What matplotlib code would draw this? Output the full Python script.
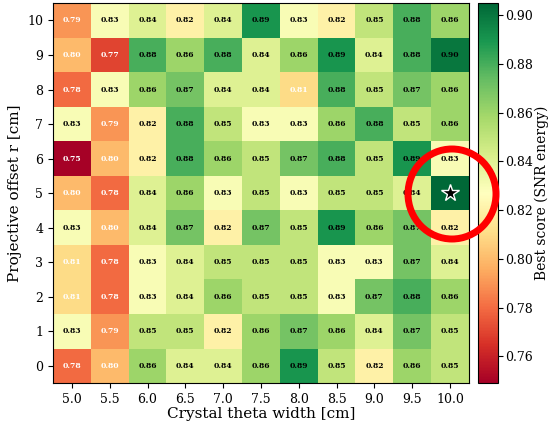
import numpy as np
import matplotlib
matplotlib.use("Agg")
import matplotlib.pyplot as plt
from matplotlib.patches import Ellipse

plt.rcParams['font.family'] = ['DejaVu Serif']

# Crystal theta width [cm] (columns) and projective offset r [cm] (rows)
widths = [5.0, 5.5, 6.0, 6.5, 7.0, 7.5, 8.0, 8.5, 9.0, 9.5, 10.0]
offsets = [0, 1, 2, 3, 4, 5, 6, 7, 8, 9, 10]

# best score per cell, rows from r=0 up to r=10
scores = [
    [0.78, 0.80, 0.86, 0.84, 0.84, 0.86, 0.89, 0.85, 0.82, 0.86, 0.85],
    [0.83, 0.79, 0.85, 0.85, 0.82, 0.86, 0.87, 0.86, 0.84, 0.87, 0.85],
    [0.81, 0.78, 0.83, 0.84, 0.86, 0.85, 0.85, 0.83, 0.87, 0.88, 0.86],
    [0.81, 0.78, 0.83, 0.84, 0.85, 0.85, 0.85, 0.83, 0.83, 0.87, 0.84],
    [0.83, 0.80, 0.84, 0.87, 0.82, 0.87, 0.85, 0.89, 0.86, 0.87, 0.82],
    [0.80, 0.78, 0.84, 0.86, 0.83, 0.85, 0.83, 0.85, 0.85, 0.84, 0.905],
    [0.75, 0.80, 0.82, 0.88, 0.86, 0.85, 0.87, 0.88, 0.85, 0.89, 0.83],
    [0.83, 0.79, 0.82, 0.88, 0.85, 0.83, 0.83, 0.86, 0.88, 0.85, 0.86],
    [0.78, 0.83, 0.86, 0.87, 0.84, 0.84, 0.81, 0.88, 0.85, 0.87, 0.86],
    [0.80, 0.77, 0.88, 0.86, 0.88, 0.84, 0.86, 0.89, 0.84, 0.88, 0.90],
    [0.79, 0.83, 0.84, 0.82, 0.84, 0.89, 0.83, 0.82, 0.85, 0.88, 0.86],
]
Z = np.array(scores)

fig = plt.figure(figsize=(5.48, 4.22), dpi=100)
ax = fig.add_axes([0.0967, 0.0924, 0.759, 0.900])
cax = fig.add_axes([0.872, 0.0924, 0.0365, 0.900])

im = ax.imshow(Z, origin='lower', cmap='RdYlGn', vmin=0.749, vmax=0.905,
               aspect='auto', interpolation='nearest')

best = np.unravel_index(np.argmax(Z), Z.shape)
for i in range(len(offsets)):
    for j in range(len(widths)):
        if (i, j) == best:
            continue
        v = Z[i, j]
        col = 'white' if v < 0.815 else 'black'
        ax.text(j, i, "%.2f" % v, ha='center', va='center', fontsize=5.5,
                fontweight='bold', color=col)

ax.plot(best[1], best[0], marker='*', markersize=13, color='black',
        markeredgecolor='white', markeredgewidth=1.0)

ax.set_xticks(range(len(widths)))
ax.set_xticklabels(["%.1f" % w for w in widths])
ax.set_yticks(range(len(offsets)))
ax.set_yticklabels([str(o) for o in offsets])
ax.tick_params(labelsize=9)
ax.set_xlabel("Crystal theta width [cm]", fontsize=11, labelpad=1)
ax.set_ylabel("Projective offset r [cm]", fontsize=11, labelpad=4)

cb = fig.colorbar(im, cax=cax)
cb.set_ticks([0.76, 0.78, 0.80, 0.82, 0.84, 0.86, 0.88, 0.90])
cb.ax.tick_params(labelsize=9, pad=2)
cb.set_label("Best score (SNR energy)", fontsize=10, labelpad=1)

# red highlight ring around the best cell
ring = Ellipse((452 / 548, 1 - 194 / 422), 88 / 548, 90 / 422,
               transform=fig.transFigure, fill=False, edgecolor='red',
               linewidth=5, zorder=10)
fig.patches.append(ring)

fig.savefig("out.png", dpi=100)
